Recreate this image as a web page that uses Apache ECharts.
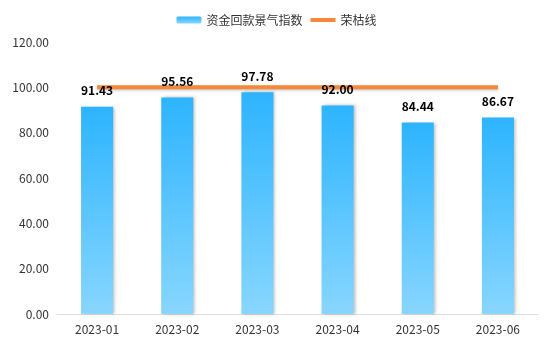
<!DOCTYPE html>
<html><head><meta charset="utf-8">
<script src="https://cdn.jsdelivr.net/npm/echarts@6/dist/echarts.min.js"></script>
<style>html,body{margin:0;padding:0;background:#fff}#c{width:553px;height:347px}</style>
</head><body><div id="c"></div>
<script>
const categories = ['2023-01','2023-02','2023-03','2023-04','2023-05','2023-06'];
const indexValues = [91.43, 95.56, 97.78, 92.00, 84.44, 86.67];
const boomLine = [100, 100, 100, 100, 100, 100];
const seriesNames = ['资金回款景气指数', '荣枯线'];
const ff = '"Noto Sans CJK SC", "Noto Sans", sans-serif';
const chart = echarts.init(document.getElementById('c'));
const grad = new echarts.graphic.LinearGradient(0,0,0,1,[{offset:0,color:'#2db4fe'},{offset:1,color:'#88d6ff'}]);
chart.setOption({
  animation:false,
  textStyle:{fontFamily:ff},
  legend:{top:9,left:'center',itemWidth:25,itemHeight:7,itemGap:6,textStyle:{fontSize:12,color:'#333',fontFamily:ff},
    data:[{name:seriesNames[0]},{name:seriesNames[1],itemStyle:{opacity:0},lineStyle:{width:4,color:'#f5883a'}}]},
  grid:{left:57,right:15,top:42,bottom:33},
  xAxis:{type:'category',data:categories,axisLine:{lineStyle:{color:'#ddd'}},axisTick:{show:false},
    axisLabel:{color:'#333',fontSize:12,margin:9,fontFamily:ff}},
  yAxis:{type:'value',min:0,max:120,interval:20,splitLine:{show:false},axisLine:{show:false},axisTick:{show:false},
    axisLabel:{color:'#333',fontSize:12,formatter:v=>v.toFixed(2),fontFamily:ff}},
  series:[
    {name:seriesNames[0],type:'bar',data:indexValues,barWidth:'40%',z:3,
     itemStyle:{color:grad,shadowColor:'rgba(0,0,0,0.25)',shadowBlur:3,shadowOffsetX:2},
     label:{show:true,position:'top',distance:10,color:'#000',fontWeight:'bold',fontSize:12,formatter:p=>p.value.toFixed(2),fontFamily:ff}},
    {name:seriesNames[1],type:'line',data:boomLine,symbol:'none',z:2,
     lineStyle:{color:'#f5883a',width:4,shadowColor:'rgba(0,0,0,0.25)',shadowBlur:3,shadowOffsetY:1},
     itemStyle:{color:'#f5883a'}}
  ]
});
</script></body></html>
